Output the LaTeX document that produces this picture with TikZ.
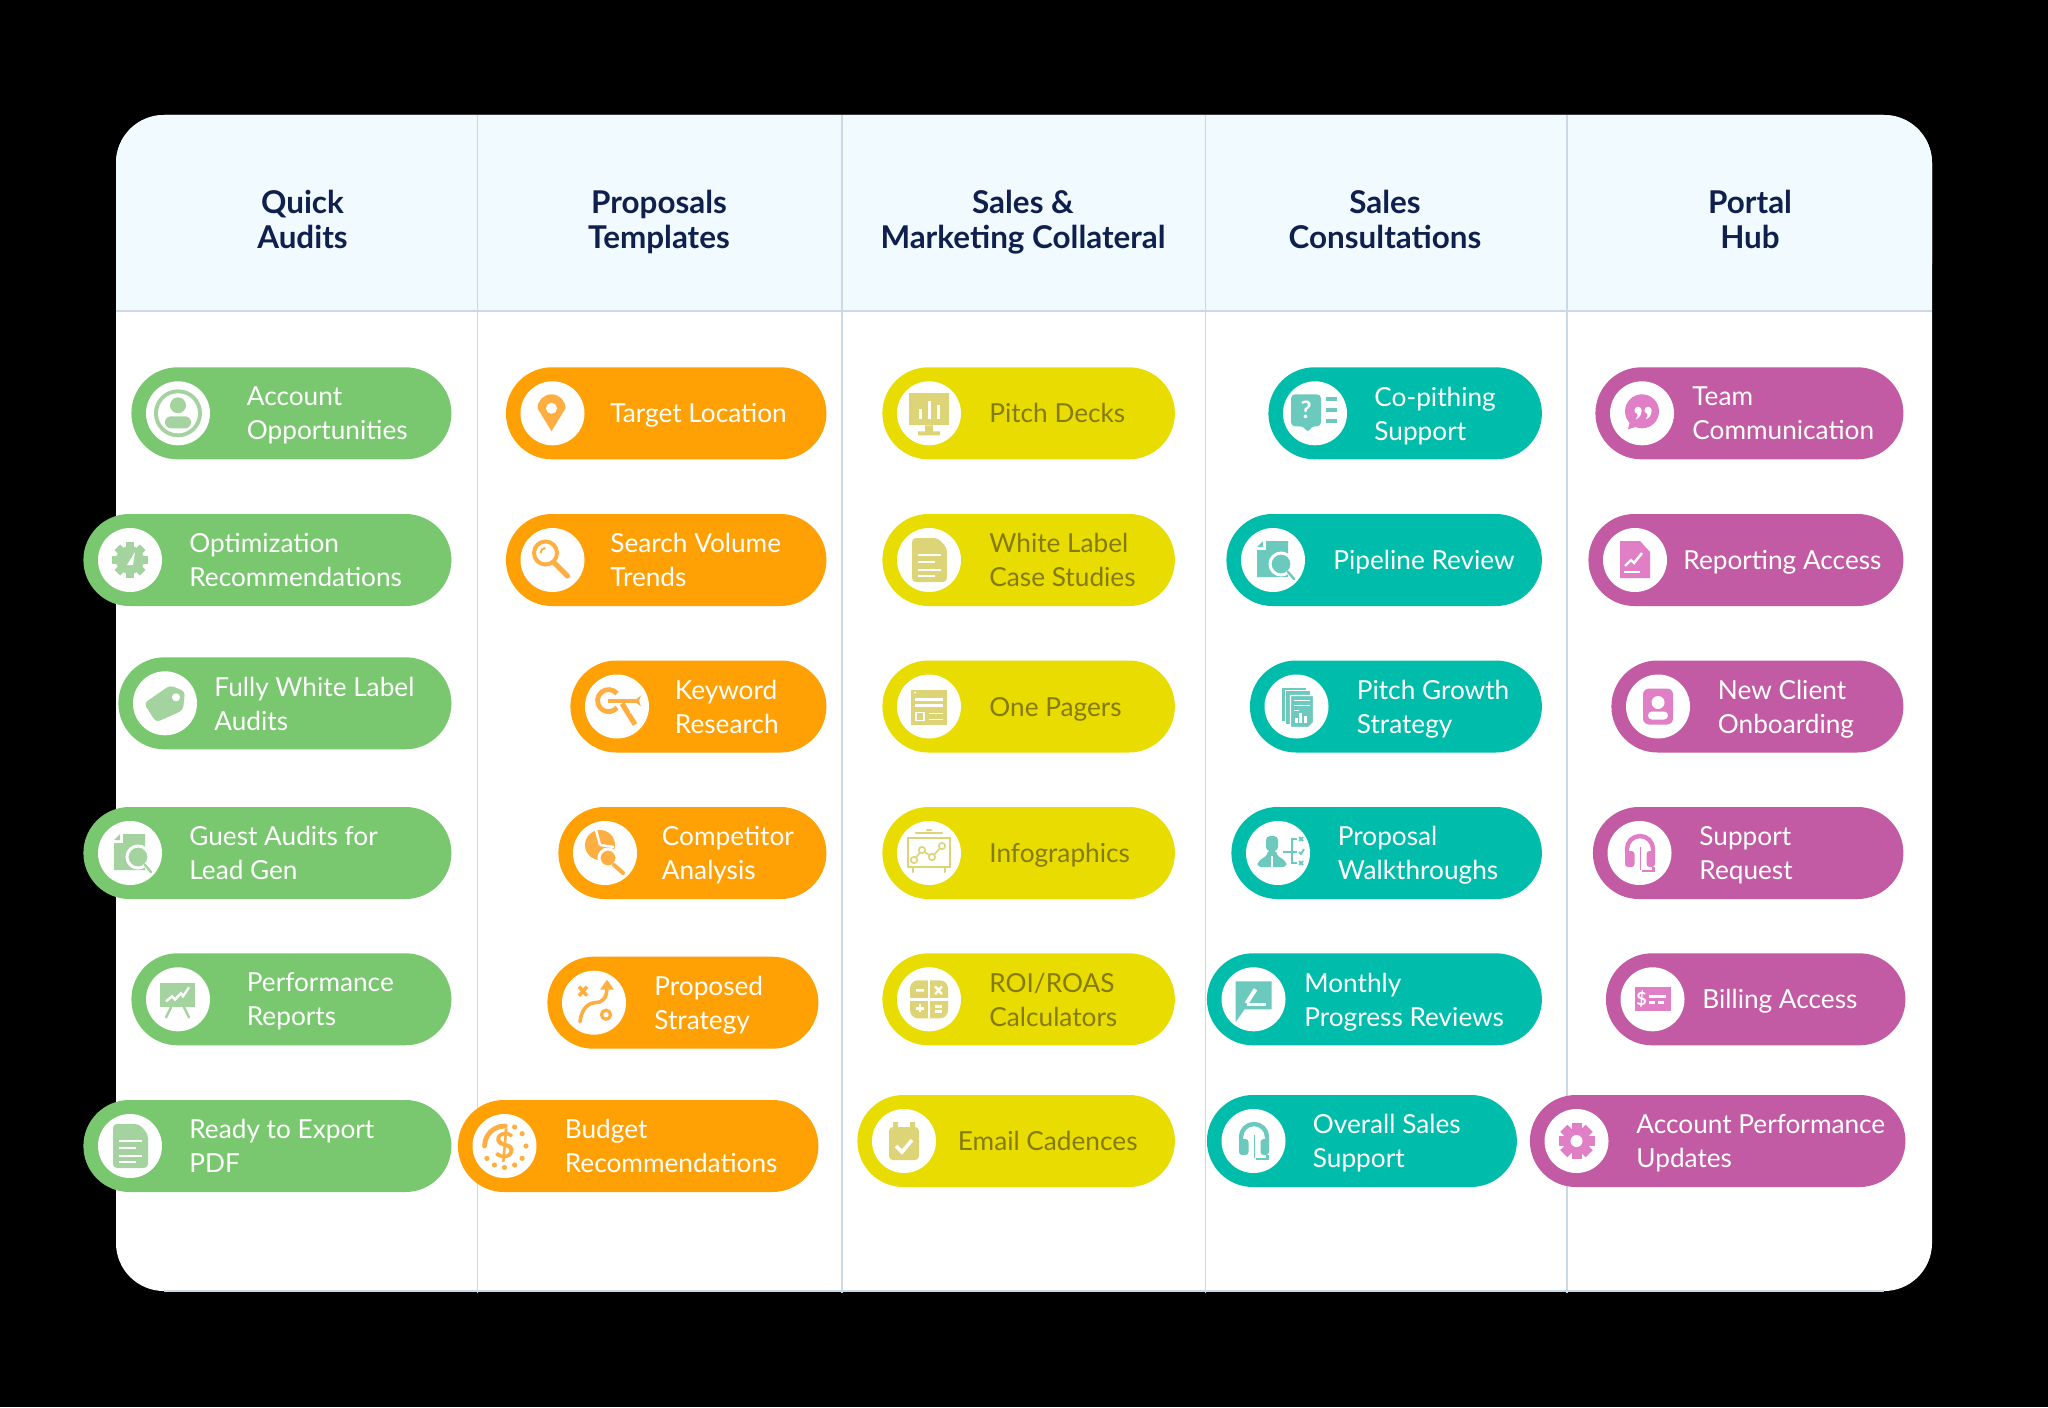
\documentclass[tikz,border=0pt]{standalone}
\usepackage{fontspec}
\setmainfont{Lato}
\usetikzlibrary{shapes.misc}

\definecolor{greenp}{HTML}{79C86F}
\definecolor{orangep}{HTML}{FFA005}
\definecolor{yellowp}{HTML}{E9DC00}
\definecolor{tealp}{HTML}{00BDAB}
\definecolor{pinkp}{HTML}{C25BA3}
\definecolor{greeni}{HTML}{A4D3A0}
\definecolor{orangei}{HTML}{FFAF42}
\definecolor{yellowi}{HTML}{DDD377}
\definecolor{teali}{HTML}{6CC9BE}
\definecolor{pinki}{HTML}{E07FC6}
\definecolor{headfill}{HTML}{F1FAFE}
\definecolor{rulecol}{HTML}{CBD8E6}
\definecolor{navy}{HTML}{0F1F4E}
\definecolor{olive}{HTML}{857B0C}
\colorlet{ink}{greeni}
\colorlet{lblcol}{white}

\tikzset{
  pill/.style={rounded rectangle, minimum height=46pt, inner sep=0pt, anchor=west},
  iconbg/.style={circle, fill=white, minimum size=32pt, inner sep=0pt},
  lbl/.style={anchor=west, inner sep=0pt, align=left, text=lblcol, font=\fontsize{13.1}{17}\selectfont,
    execute at begin node=\strut, execute at end node=\strut},
  headlbl/.style={align=center, inner sep=0pt, text=navy, font=\bfseries\fontsize{15.7}{17.5}\selectfont,
    execute at begin node=\strut, execute at end node=\strut},
  rule/.style={draw=rulecol, line width=0.7pt},
  wl/.style={draw=white, line width=1.2pt},
  il/.style={draw=ink, line width=1.2pt, line cap=round},
  icPerson/.pic={
    \fill[ink] (0,0) circle (24);
    \fill[white] (0,0) circle (20);
    \fill[ink] (0,-8) circle (8);
    \fill[ink, rounded corners=3pt] (-13,3) rectangle (13,15);
  },
  icGauge/.pic={
    \foreach \a in {0,45,...,315} \fill[ink, rotate=\a] (-4,-18) rectangle (4,-12);
    \fill[ink] (0,0) circle (14);
    \fill[white] (-3,5) -- (5,-8) -- (3,5) -- cycle;
  },
  icTag/.pic={
    \fill[ink, rounded corners=2pt] (-21,0) -- (5,-18) -- (20,-12) -- (18,7) -- (-9,19) -- cycle;
    \fill[white] (11,-6) circle (4);
  },
  icDocFind/.pic={
    \fill[ink] (-8,-19) -- (15,-19) -- (15,17) -- (-16,17) -- (-16,-11) -- cycle;
    \fill[white] (-16,-19) rectangle (-7,-10);
    \fill[ink] (-10,-19) -- (-16,-13) -- (-10,-13) -- cycle;
    \draw[white, line width=1.5pt, fill=ink] (8,4) circle (11);
    \draw[il] (15,12) -- (21,19);
  },
  icBoard/.pic={
    \fill[ink] (-18,-16) rectangle (17,8);
    \draw[il] (-7,8) -- (-12,18) (6,8) -- (11,18);
    \draw[wl] (-12,2) -- (-6,-3) -- (-3,0) -- (3,-6) -- (5,-3) -- (11,-12);
  },
  icDoc/.pic={
    \fill[ink, rounded corners=2pt] (-17,-22) -- (9,-22) -- (18,-12) -- (18,22) -- (-17,22) -- cycle;
    \draw[wl] (-11,-5) -- (12,-5) (-11,2) -- (6,2) (-11,10) -- (12,10) (-11,16) -- (6,16);
  },
  icPin/.pic={
    \fill[ink] (-15,-5) arc (180:360:14) -- (-1,18) -- cycle;
    \fill[white] (-1,-5) circle (5.5);
  },
  icFind/.pic={
    \draw[ink, line width=2pt] (-7,-7) circle (11.5);
    \draw[ink, line width=1pt] (-12,-7) arc (180:270:5);
    \draw[ink, line width=2.6pt, line cap=round] (2,3) -- (15,16);
  },
  icKey/.pic={
    \draw[ink, line width=2.4pt] (0,-13) arc (-40:-320:11);
    \draw[ink, line width=1.6pt] (-9,-5.5) -- (20,-5.5);
    \fill[ink] (17,-5.5) -- (24,-11) -- (22,-5.5) -- (24,0) -- cycle;
    \draw[ink, line width=2.6pt] (5,-3) -- (18,18);
    \fill[white] (14,3) -- (17,5) -- (13,7) -- cycle;
  },
  icPieFind/.pic={
    \fill[ink] (-5,-8) circle (15);
    \draw[wl] (-5,-8) -- (-9,-23) (-5,-8) -- (9,-6);
    \draw[white, line width=1.5pt, fill=ink] (3,5) circle (9);
    \draw[ink, line width=2pt, line cap=round] (9,12) -- (18,20);
  },
  icPlan/.pic={
    \draw[ink, line width=1.8pt] (-15,-16) -- (-7,-7) (-7,-16) -- (-15,-7);
    \draw[ink, line width=1.8pt, line cap=round] (-14,19) .. controls (-12,2) and (-2,0) .. (1,0) .. controls (8,0) and (13,-4) .. (13,-16);
    \fill[ink] (13,-23) -- (20,-13) -- (6,-13) -- cycle;
    \draw[ink, line width=1.6pt] (12,12) circle (4.5);
  },
  icBudget/.pic={
    \node[text=ink, inner sep=0pt, font=\bfseries\fontsize{18}{18}\selectfont] at (0,0) {\$};
    \draw[ink, line width=2.4pt, line cap=round] (-20,0) arc (180:272:20);
    \foreach \a in {-62,-35,0,35,62,90,118,145} \fill[ink] (\a:21.5) circle (2.6);
  },
  icScreen/.pic={
    \fill[ink] (-20,-20) rectangle (20,12);
    \fill[ink] (-4,12) rectangle (4,19) (-11,18) rectangle (11,22);
    \draw[wl, line width=1.5pt] (-9,6) -- (-9,-4) (0,6) -- (0,-12) (9,6) -- (9,-8);
  },
  icPage/.pic={
    \fill[ink] (-18,-17) rectangle (18,18);
    \fill[white] (-14,-14) circle (1.2);
    \draw[wl] (-14,-7) -- (14,-7) (-14,-1) -- (14,-1);
    \draw[wl, line width=.9pt] (-13,6) rectangle (-5,14) (0,7) -- (14,7) (0,13) -- (14,13);
  },
  icGraph/.pic={
    \draw[ink, line width=1.2pt, fill=white] (-21,-15) rectangle (21,14);
    \draw[il] (-13,-20) -- (13,-20) (-2,-23) -- (2,-23) (-16,14) -- (-16,19) (16,14) -- (16,19);
    \draw[ink, line width=.8pt] (-15,7) -- (-7,-3) -- (3,4) -- (13,-7);
    \foreach \p in {(-15,7),(-7,-3),(3,4),(13,-7)} \draw[ink, line width=.8pt, fill=white] \p circle (3.2);
  },
  icCalc/.pic={
    \fill[ink, rounded corners=4pt] (-19,-19) rectangle (19,19);
    \draw[wl] (0,-19) -- (0,19) (-19,0) -- (19,0);
    \draw[wl] (-13,-9) -- (-5,-9) (6,-13) -- (13,-5) (13,-13) -- (6,-5);
    \draw[wl] (-13,9) -- (-5,9) (-9,5) -- (-9,13) (6,7) -- (13,7) (6,12) -- (13,12);
  },
  icCal/.pic={
    \fill[ink, rounded corners=2pt] (-15,-14) rectangle (15,19);
    \fill[ink] (-11,-19) rectangle (-6,-12) (6,-19) rectangle (11,-12);
    \draw[white, line width=1.8pt] (-8,5) -- (-2,11) -- (8,-1);
  },
  icAsk/.pic={
    \fill[ink, rounded corners=2pt] (-24,-19) -- (6,-19) -- (6,13) -- (-4,13) -- (-7,20) -- (-11,13) -- (-24,13) -- cycle;
    \node[text=white, inner sep=0pt, font=\bfseries\fontsize{12}{12}\selectfont] at (-9,-3) {?};
    \draw[ink, line width=2pt] (11,-14) -- (22,-14) (11,-3) -- (22,-3) (11,8) -- (22,8);
  },
  icStack/.pic={
    \draw[white, line width=.6pt, fill=ink] (-15,-19) rectangle (10,15);
    \draw[white, line width=.6pt, fill=ink] (-11,-16) rectangle (14,18);
    \draw[white, line width=.6pt, fill=ink] (-6,-11) -- (17,-11) -- (17,16) -- (12,21) -- (-6,21) -- cycle;
    \draw[wl, line width=.8pt] (-3,-6) -- (13,-6) (-3,-1) -- (13,-1) (-3,4) -- (2,4);
    \draw[white, line width=1.4pt] (0,16) -- (0,11) (4,16) -- (4,6) (9,16) -- (9,9);
  },
  icWalk/.pic={
    \fill[ink, rounded corners=2pt] (-12,-17) rectangle (0,-2);
    \fill[ink, rounded corners=2pt] (-21,14) -- (-20,8) -- (-10,2) -- (-10,-4) -- (-2,-4) -- (-2,2) -- (8,8) -- (9,14) -- cycle;
    \draw[white, line width=.6pt] (-6,3) -- (-6,14);
    \draw[ink, line width=.8pt] (19,-14) -- (14,-14) -- (14,10) -- (19,10) (5,-1) -- (19,-1);
    \draw[ink, line width=.9pt] (21,-16) -- (25,-12) (25,-16) -- (21,-12) (21,-1) -- (23,1) -- (26,-4) (21,8) -- (25,12) (25,8) -- (21,12);
  },
  icNote/.pic={
    \fill[ink] (-18,-18) -- (18,-18) -- (18,10) -- (-9,10) -- (-18,23) -- cycle;
    \draw[white, line width=2pt] (-7,4) -- (2,-10);
    \draw[wl] (-7,5) -- (12,5);
  },
  icPhones/.pic={
    \draw[ink, line width=2.2pt] (-12.5,0) -- (-12.5,-4) arc (180:360:13) -- (13.5,0);
    \fill[ink, rounded corners=1.5pt] (-14.5,-2) rectangle (-5,14) (7,-2) rectangle (15.5,14);
    \draw[ink, line width=.9pt] (1,-6) -- (1,17);
    \draw[ink, line width=1.2pt] (14,14) -- (14,18) -- (2,18);
  },
  icQuote/.pic={
    \fill[ink] (0,-2) circle (17);
    \fill[ink] (-11,4) -- (-14,16) -- (-1,12) -- cycle;
    \foreach \xq in {-4,6} {
      \fill[white] (\xq,-3) circle (3.6);
      \fill[white] (\xq+3.6,-3) .. controls (\xq+3.6,2) and (\xq+1,5) .. (\xq-2.5,6) .. controls (\xq,3) and (\xq,1) .. (\xq-1,0) -- cycle;
    }
  },
  icChartDoc/.pic={
    \fill[ink] (-15,-19) -- (5,-19) -- (15,-8) -- (15,18) -- (-15,18) -- cycle;
    \draw[wl] (-10,6) -- (-4,0) -- (-1,3) -- (7,-7);
    \draw[wl] (-11,12) -- (5,12);
    \fill[white] (7,-19) -- (15,-11) -- (15,-19) -- cycle;
  },
  icCard/.pic={
    \fill[ink, rounded corners=3pt] (-15,-18) rectangle (15,18);
    \fill[white] (0,-4) circle (6.5);
    \fill[white, rounded corners=2pt] (-10,5) rectangle (10,13);
  },
  icBill/.pic={
    \fill[ink] (-18,-12) rectangle (18,12);
    \node[text=white, inner sep=0pt, font=\bfseries\fontsize{9}{9}\selectfont] at (-11,0) {\$};
    \draw[wl] (-4,-3) -- (13,-3);
    \draw[wl, dashed, dash pattern=on 3pt off 1.5pt] (-4,3) -- (13,3);
  },
  icCog/.pic={
    \foreach \a in {0,45,...,315} \fill[ink, rotate=\a] (-5,-18) rectangle (5,-11);
    \fill[ink] (0,0) circle (13);
    \fill[white] (0,0) circle (6);
  },
}

% [text drop], name, fill, left, right, y, text x, icon, text
\newcommand{\pillitem}[9][5.2]{%
  \node[pill, fill=#3, minimum width={(#5-#4+1)*0.5pt}] (#2) at (#4-1,#6) {};
  \node[iconbg] (#2c) at (#4+46,#6) {};
  \pic at (#2c) {#8};
  \node[lbl] (#2t) at (#7-1,#6+#1) {#9};
}

\begin{document}
\begin{tikzpicture}[x=0.5pt,y=-0.5pt]

\useasboundingbox (0,0) rectangle (2048,1407);
\fill[black] (0,0) rectangle (2048,1407);

% card and header band
\fill[white, rounded corners=24pt] (116,115) rectangle (1932,1291);
\fill[headfill, rounded corners=24pt] (116,115) -- (1932,115) -- (1932,311) -- (116,311) -- cycle;
\fill[headfill] (116,200) rectangle (1932,311);
\draw[rule] (116,311) -- (1932,311);
\foreach \xr in {477.5,842,1205.5,1567} \draw[rule] (\xr,115) -- (\xr,1293);
\draw[rule] (164,1291) -- (1884,1291);

\node[headlbl] (quick) at (302.5,225) {Quick\\Audits};
\node[headlbl] (prop) at (659,225) {Proposals\\Templates};
\node[headlbl] (sales) at (1023,225) {Sales \&\\Marketing Collateral};
\node[headlbl] (cons) at (1385,225) {Sales\\Consultations};
\node[headlbl] (portal) at (1750,225) {Portal\\Hub};

% quick audits
\colorlet{ink}{greeni}
\pillitem{ga}{greenp}{132}{451}{413.3}{247.5}{icPerson}{Account\\Opportunities}
\pillitem{gb}{greenp}{84}{451}{560}{190}{icGauge}{Optimization\\Recommendations}
\pillitem{gc}{greenp}{119}{451}{703.3}{215}{icTag}{Fully White Label\\Audits}
\pillitem{gd}{greenp}{84}{451}{853}{190}{icDocFind}{Guest Audits for\\Lead Gen}
\pillitem{ge}{greenp}{132}{451}{999.3}{247.5}{icBoard}{Performance\\Reports}
\pillitem{gf}{greenp}{84}{451}{1146}{190}{icDoc}{Ready to Export\\PDF}

% proposals templates
\colorlet{ink}{orangei}
\pillitem[2.8]{oa}{orangep}{506.5}{826}{413.3}{611}{icPin}{Target Location}
\pillitem{ob}{orangep}{506.5}{826}{560}{611}{icFind}{Search Volume\\Trends}
\pillitem{oc}{orangep}{571}{826}{706.5}{675.5}{icKey}{Keyword\\Research}
\pillitem{od}{orangep}{559}{826}{853}{662.5}{icPieFind}{Competitor\\Analysis}
\pillitem{oe}{orangep}{548}{818}{1002.7}{655}{icPlan}{Proposed\\Strategy}
\pillitem{of}{orangep}{458.5}{818}{1146}{565.5}{icBudget}{Budget\\Recommendations}

% collateral
\colorlet{ink}{yellowi}
\colorlet{lblcol}{olive}
\pillitem[2.8]{ya}{yellowp}{883}{1174.5}{413.3}{990}{icScreen}{Pitch Decks}
\pillitem{yb}{yellowp}{883}{1174.5}{560}{990}{icDoc}{White Label\\Case Studies}
\pillitem[2.8]{yc}{yellowp}{883}{1174.5}{706.5}{990}{icPage}{One Pagers}
\pillitem[2.8]{yd}{yellowp}{883}{1174.5}{853}{990}{icGraph}{Infographics}
\pillitem{ye}{yellowp}{883}{1174.5}{999.3}{990}{icCalc}{ROI/ROAS\\Calculators}
\pillitem[2.8]{yf}{yellowp}{858}{1174.5}{1141}{958.5}{icCal}{Email Cadences}

% consultations
\colorlet{ink}{teali}
\colorlet{lblcol}{white}
\pillitem{ta}{tealp}{1269}{1541.5}{413.3}{1375}{icAsk}{Co-pithing\\Support}
\pillitem[2.8]{tb}{tealp}{1227}{1541.5}{560}{1334}{icDocFind}{Pipeline Review}
\pillitem{tc}{tealp}{1250.5}{1541.5}{706.5}{1357.5}{icStack}{Pitch Growth\\Strategy}
\pillitem{td}{tealp}{1232}{1541.5}{853}{1338.5}{icWalk}{Proposal\\Walkthroughs}
\pillitem{te}{tealp}{1207.5}{1541.5}{999.3}{1305}{icNote}{Monthly\\Progress Reviews}
\pillitem{tf}{tealp}{1207.5}{1516.5}{1141}{1313.5}{icPhones}{Overall Sales\\Support}

% portal hub
\colorlet{ink}{pinki}
\pillitem{pa}{pinkp}{1596}{1903}{413.3}{1693}{icQuote}{Team\\Communication}
\pillitem[2.8]{pb}{pinkp}{1589}{1903}{560}{1684}{icChartDoc}{Reporting Access}
\pillitem{pc}{pinkp}{1612}{1903}{706.5}{1718.5}{icCard}{New Client\\Onboarding}
\pillitem{pd}{pinkp}{1593.5}{1903}{853}{1700}{icPhones}{Support\\Request}
\pillitem[2.8]{pe}{pinkp}{1606.5}{1905}{999.3}{1703}{icBill}{Billing Access}
\pillitem{pf}{pinkp}{1530.5}{1905}{1141}{1637}{icCog}{Account Performance\\Updates}

\end{tikzpicture}
\end{document}
